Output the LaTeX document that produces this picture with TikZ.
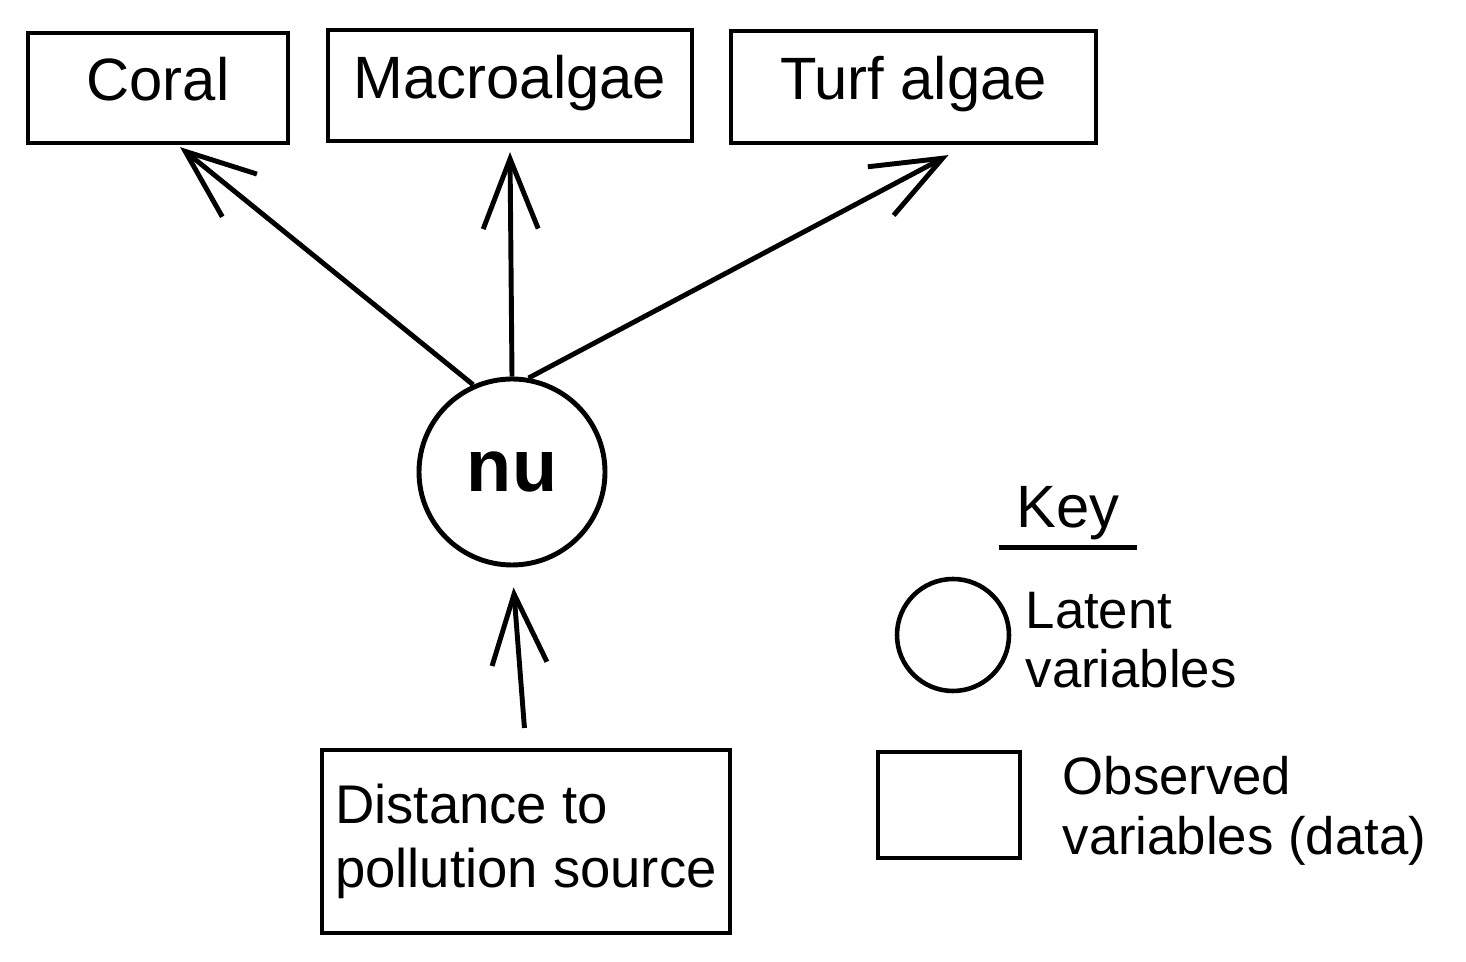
\documentclass[tikz,border=0pt]{standalone}
\usepackage{fontspec}
\setmainfont{Liberation Sans}
\usetikzlibrary{positioning, calc, arrows.meta}
\tikzset{
  obsbox/.style={rectangle, draw=black, line width=1.2pt,
                 align=center, font=\fontsize{17}{20}\selectfont},
  toplabel/.style={obsbox, text height=0.72em, text depth=0pt},
  latcirc/.style={circle, draw=black, line width=1.4pt,
                  minimum size=1.86cm, inner sep=0pt,
                  font=\fontsize{21}{24}\selectfont\bfseries},
  keytext/.style={align=left, anchor=west, inner sep=0pt,
                  font=\fontsize{15}{17}\selectfont},
  link/.style={-{Straight Barb[length=0.7cm, width=0.55cm, line width=1.4pt]},
               line width=1.4pt, black},
}

\begin{document}
\begin{tikzpicture}
    \useasboundingbox (0,0) rectangle (14.66,-9.62);

    % Top: observed responses
    \node[toplabel, minimum width=2.6cm, minimum height=1.1cm] (coral) at (1.58,-0.88) {Coral};
    \node[toplabel, minimum width=3.64cm, minimum height=1.11cm] (macro) at (5.10,-0.855) {Macroalgae};
    \node[toplabel, minimum width=3.65cm, minimum height=1.12cm] (turf) at (9.135,-0.87) {Turf algae};

    % Middle: latent variable
    \node[latcirc] (nu) at (5.12,-4.72) {nu};

    % Bottom: covariate
    \node[obsbox, minimum width=4.08cm, minimum height=1.83cm, align=left,
          font=\fontsize{15.5}{18}\selectfont] (dist) at (5.26,-8.415)
         {Distance to\\pollution source};

    % Key
    \node[font=\fontsize{17}{20}\selectfont, minimum width=1.37cm, inner sep=2pt] (keylab) at (10.68,-5.13) {Key};
    \draw[line width=1.2pt] (keylab.south west) -- (keylab.south east);
    \node[circle, draw=black, line width=1.3pt, minimum size=1.12cm, inner sep=0pt] (keycirc) at (9.53,-6.35) {};
    \node[keytext] (keylat) at (10.25,-6.40) {Latent\\variables};
    \node[rectangle, draw=black, line width=1.2pt, minimum width=1.42cm, minimum height=1.06cm] (keybox) at (9.49,-8.05) {};
    \node[keytext] (keyobs) at (10.62,-8.11) {Observed\\variables (data)};

    % Connections
    \draw[link] (nu.114) -- ($(coral.south)+(0.22,-0.02)$);
    \draw[link] (nu.north) -- ([yshift=-0.09cm]macro.south);
    \draw[link] (nu.80) -- ($(turf.south)+(0.35,-0.10)$);
    \draw[link, shorten <=0.2cm, shorten >=0.2cm] (dist.north) -- (nu.south);
\end{tikzpicture}
\end{document}
